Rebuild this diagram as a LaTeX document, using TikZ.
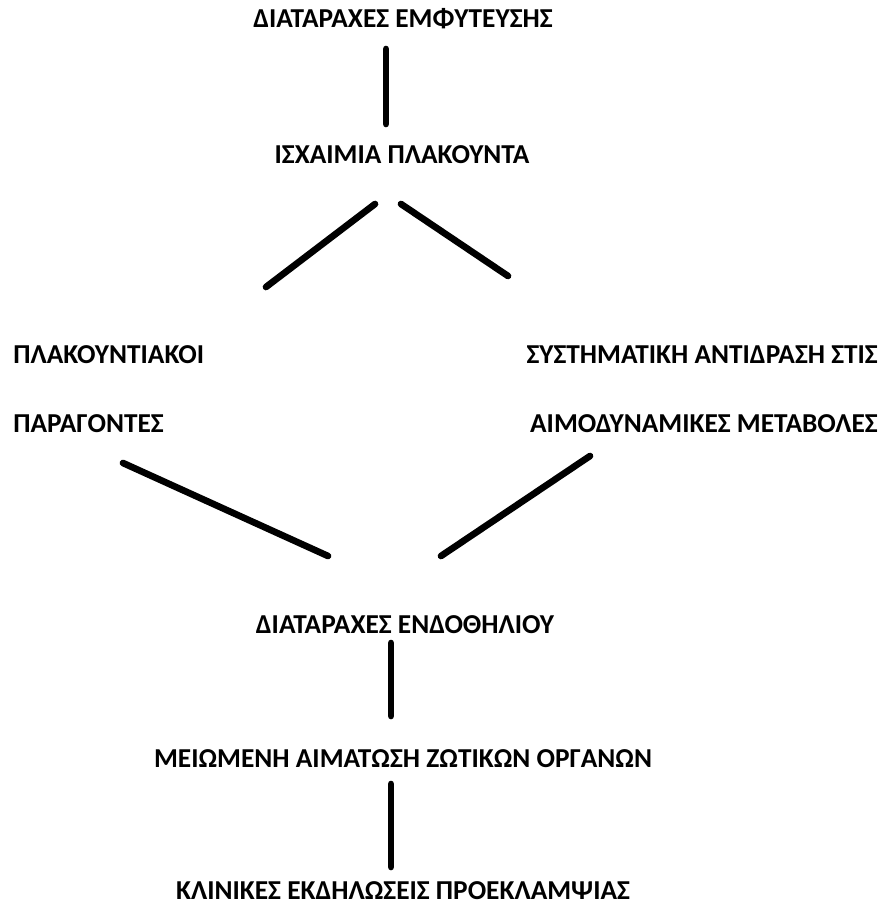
\documentclass[tikz,border=0pt]{standalone}
\usepackage{fontspec}
\setmainfont{Carlito}
\usepackage{tikz}
\tikzset{lbl/.style={font=\fontsize{20.5}{24}\selectfont\bfseries, inner sep=0pt},
link/.style={line width=5pt, line cap=round}}

\begin{document}
\begin{tikzpicture}[x=0.75pt,y=-0.75pt]
\useasboundingbox (0,0) rectangle (886,906);

\node[lbl,anchor=base] (emf) at (403,28) {ΔΙΑΤΑΡΑΧΕΣ ΕΜΦΥΤΕΥΣΗΣ};
\node[lbl,anchor=base] (isx) at (402,163) {ΙΣΧΑΙΜΙΑ ΠΛΑΚΟΥΝΤΑ};
\node[lbl,anchor=base west] (plak) at (13,363) {ΠΛΑΚΟΥΝΤΙΑΚΟΙ};
\node[lbl,anchor=base west] (par) at (13,432) {ΠΑΡΑΓΟΝΤΕΣ};
\node[lbl,anchor=base east] (sys) at (878,363) {ΣΥΣΤΗΜΑΤΙΚΗ ΑΝΤΙΔΡΑΣΗ ΣΤΙΣ};
\node[lbl,anchor=base east] (aimo) at (878,432) {ΑΙΜΟΔΥΝΑΜΙΚΕΣ ΜΕΤΑΒΟΛΕΣ};
\node[lbl,anchor=base] (end) at (405,633) {ΔΙΑΤΑΡΑΧΕΣ ΕΝΔΟΘΗΛΙΟΥ};
\node[lbl,anchor=base] (meio) at (403,767) {ΜΕΙΩΜΕΝΗ ΑΙΜΑΤΩΣΗ ΖΩΤΙΚΩΝ ΟΡΓΑΝΩΝ};
\node[lbl,anchor=base] (klin) at (403,899) {ΚΛΙΝΙΚΕΣ ΕΚΔΗΛΩΣΕΙΣ ΠΡΟΕΚΛΑΜΨΙΑΣ};

% line ends
\coordinate (e1) at (386,49);
\coordinate (e2) at (386,124);
\coordinate (l1) at (375,204);
\coordinate (l2) at (266,287);
\coordinate (r1) at (401,204);
\coordinate (r2) at (508,276);
\coordinate (p1) at (123,463);
\coordinate (p2) at (328,556);
\coordinate (s1) at (590,456);
\coordinate (s2) at (441,556);
\coordinate (d1) at (391,643);
\coordinate (d2) at (391,716);
\coordinate (m1) at (391,784);
\coordinate (m2) at (391,867);

\draw[link] (e1) -- (e2);
\draw[link] (l1) -- (l2);
\draw[link] (r1) -- (r2);
\draw[link] (p1) -- (p2);
\draw[link] (s1) -- (s2);
\draw[link] (d1) -- (d2);
\draw[link] (m1) -- (m2);
\end{tikzpicture}
\end{document}
